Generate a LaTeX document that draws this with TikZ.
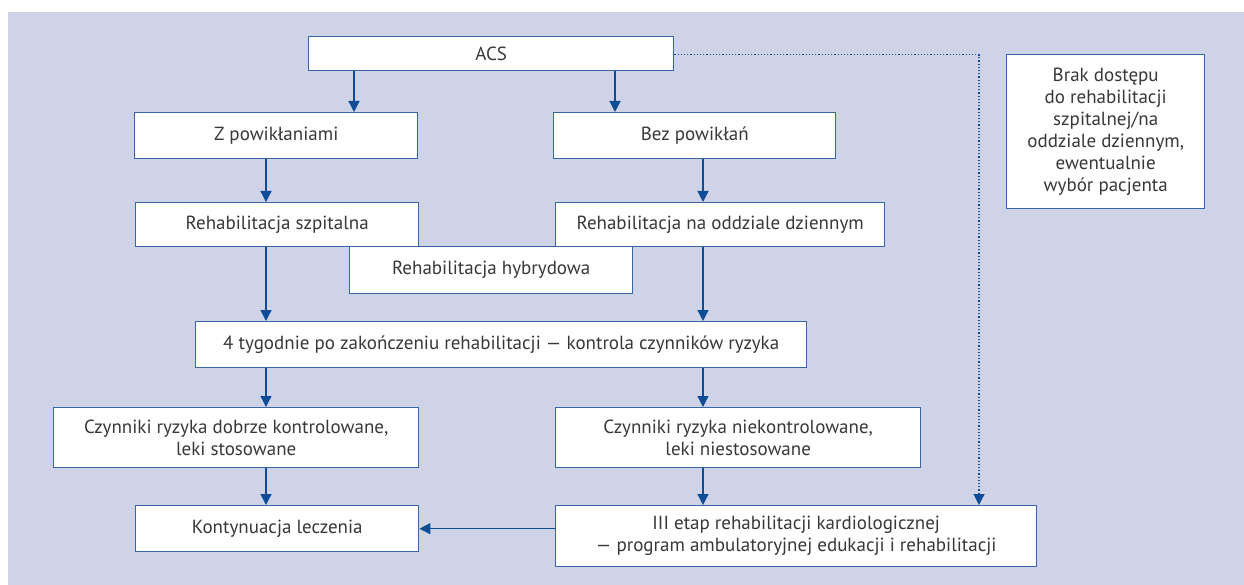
\documentclass[tikz,border=0pt]{standalone}
\usepackage{fontspec}
\setmainfont{PT Sans}
\usetikzlibrary{arrows.meta}
\definecolor{bg}{HTML}{CED3E8}
\definecolor{bord}{HTML}{3566A6}
\definecolor{arrc}{HTML}{0E4C98}
\definecolor{txt}{HTML}{383838}
\tikzset{
  box/.style={draw=bord, line width=1.4pt, fill=white, inner sep=0pt, anchor=north west,
    align=center, text=txt, font=\fontsize{19}{22}\selectfont},
  arr/.style={draw=arrc, line width=1.3pt, -{Triangle[width=11pt,length=11pt]}},
  dotline/.style={draw=arrc, line width=1.2pt, dotted, -{Triangle[width=11pt,length=11pt]}}
}
\begin{document}
\begin{tikzpicture}[x=1pt,y=-1pt]
\useasboundingbox (0,0) rectangle (1244,585);
\fill[white] (0,0) rectangle (1244,585);
\fill[bg] (8,12) rectangle (1244,585);
% nodes
\node[box, minimum width=365pt, minimum height=34pt] (acs) at (308,36) {ACS};
\node[box, minimum width=198pt, minimum height=154pt] (brak) at (1006,54) {Brak dostępu\\do rehabilitacji\\szpitalnej/na\\oddziale dziennym,\\ewentualnie\\wybór pacjenta};
\node[box, minimum width=283pt, minimum height=46pt] (z) at (134,112) {Z powikłaniami};
\node[box, minimum width=282pt, minimum height=46pt] (bez) at (553,112) {Bez powikłań};
\node[box, minimum width=283pt, minimum height=47pt] (hyb) at (349,246) {Rehabilitacja hybrydowa};
\node[box, minimum width=283pt, minimum height=44pt] (szp) at (135,202) {Rehabilitacja szpitalna};
\node[box, minimum width=329pt, minimum height=44pt] (odd) at (555,202) {Rehabilitacja na oddziale dziennym};
\node[box, minimum width=611pt, minimum height=46pt] (tyg) at (195,321) {4 tygodnie po zakończeniu rehabilitacji — kontrola czynników ryzyka};
\node[box, minimum width=365pt, minimum height=60pt] (dob) at (53,407) {Czynniki ryzyka dobrze kontrolowane,\\leki stosowane};
\node[box, minimum width=365pt, minimum height=60pt] (nie) at (555,407) {Czynniki ryzyka niekontrolowane,\\leki niestosowane};
\node[box, minimum width=283pt, minimum height=46pt] (kon) at (135,505) {Kontynuacja leczenia};
\node[box, minimum width=481pt, minimum height=61pt] (iii) at (555,505) {III etap rehabilitacji kardiologicznej\\— program ambulatoryjnej edukacji i rehabilitacji};
% guide coordinates
\coordinate (c1) at (354,0);
\coordinate (c2) at (615,0);
\coordinate (cl) at (266,0);
\coordinate (cr) at (703,0);
\coordinate (cd) at (979,0);
% connectors
\draw[arr] (acs.south -| c1) -- (z.north -| c1);
\draw[arr] (acs.south -| c2) -- (bez.north -| c2);
\draw[arr] (z.south -| cl) -- (szp.north -| cl);
\draw[arr] (bez.south -| cr) -- (odd.north -| cr);
\draw[arr] (szp.south -| cl) -- (tyg.north -| cl);
\draw[arr] (odd.south -| cr) -- (tyg.north -| cr);
\draw[arr] (tyg.south -| cl) -- (dob.north -| cl);
\draw[arr] (tyg.south -| cr) -- (nie.north -| cr);
\draw[arr] (dob.south -| cl) -- (kon.north -| cl);
\draw[arr] (nie.south -| cr) -- (iii.north -| cr);
\draw[arr] (iii.west |- kon.east) -- (kon.east);
\draw[dotline] ([yshift=-1pt]acs.east) -- ([yshift=-1pt]acs.east -| cd) -- (iii.north -| cd);
\end{tikzpicture}
\end{document}
